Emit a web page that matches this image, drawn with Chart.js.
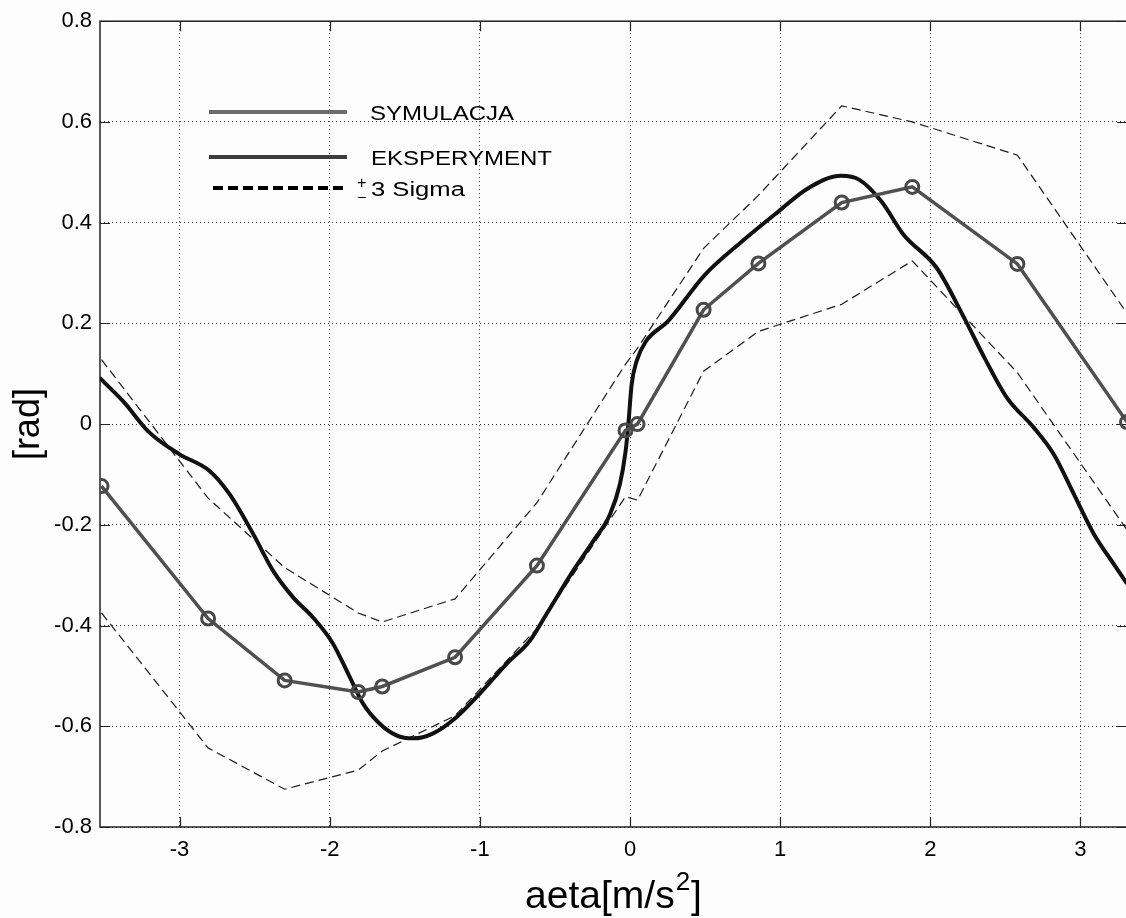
<!DOCTYPE html>
<html>
<head>
<meta charset="utf-8">
<script src="https://cdn.jsdelivr.net/npm/chart.js@4"></script>
<style>
html, body { margin: 0; padding: 0; background: #fdfdfd; overflow: hidden; }
#wrap { width: 1140px; height: 918px; position: relative; }
</style>
</head>
<body>
<div id="wrap"><canvas id="myChart"></canvas></div>
<script>
// simulation points (with markers) and the +/- 3 sigma band at the same x
const simX = [-3.52, -2.81, -2.30, -1.81, -1.65, -1.165, -0.62, -0.03, 0.05, 0.49, 0.855, 1.41, 1.88, 2.58, 3.31];
const simY = [-0.123, -0.386, -0.509, -0.532, -0.521, -0.463, -0.281, -0.0125, 0.0, 0.227, 0.319, 0.44, 0.471, 0.318, 0.004];
const sigmaUpper = [0.128, -0.147, -0.285, -0.375, -0.393, -0.347, -0.156, 0.119, 0.151, 0.349, 0.454, 0.632, 0.60, 0.534, 0.22];
const sigmaLower = [-0.375, -0.643, -0.725, -0.687, -0.649, -0.579, -0.406, -0.144, -0.151, 0.105, 0.184, 0.238, 0.324, 0.102, -0.21];

// experiment curve
const expX = [-3.533, -3.378, -3.2, -3.0, -2.8, -2.667, -2.51, -2.378, -2.244, -2.111, -1.978, -1.867, -1.778, -1.667,
  -1.556, -1.444, -1.311, -1.156, -1.0, -0.822, -0.667, -0.556, -0.378, -0.244, -0.133, -0.067, -0.029, -0.011,
  0.011, 0.044, 0.105, 0.252, 0.497, 0.743, 0.988, 1.184, 1.405, 1.528, 1.675, 1.822, 2.043, 2.215, 2.362, 2.511,
  2.689, 2.822, 2.956, 3.089, 3.222, 3.31];
const expY = [0.092, 0.046, -0.017, -0.06, -0.093, -0.139, -0.218, -0.291, -0.344, -0.384, -0.436, -0.502, -0.555, -0.595,
  -0.618, -0.624, -0.614, -0.582, -0.535, -0.476, -0.43, -0.377, -0.291, -0.232, -0.179, -0.119, -0.053, 0.0,
  0.079, 0.125, 0.164, 0.204, 0.296, 0.362, 0.422, 0.468, 0.493, 0.485, 0.442, 0.376, 0.31, 0.217, 0.131, 0.052,
  -0.007, -0.06, -0.139, -0.218, -0.278, -0.317];

const xMin = -3.53, xMax = 3.31;
const yMin = -0.8, yMax = 0.8;

const pts = (xs, ys) => xs.map((x, i) => ({ x: x, y: ys[i] }));
const FAMILY = '"Liberation Sans", Arial, sans-serif';
const tickFont = { family: FAMILY, size: 22 };

// box around the plot and inward tick marks, like matlab
const boxPlugin = {
  id: 'box',
  beforeDatasetsDraw(chart) {
    const { ctx, chartArea: a, scales } = chart;
    ctx.save();
    ctx.strokeStyle = '#222';
    ctx.lineWidth = 1.5;
    ctx.setLineDash([]);
    ctx.strokeRect(a.left, a.top, a.right - a.left, a.bottom - a.top);
    ctx.lineWidth = 1.2;
    ctx.beginPath();
    scales.x.ticks.forEach(t => {
      const px = Math.round(scales.x.getPixelForValue(t.value)) + 0.5;
      ctx.moveTo(px, a.bottom); ctx.lineTo(px, a.bottom - 10);
      ctx.moveTo(px, a.top); ctx.lineTo(px, a.top + 10);
    });
    scales.y.ticks.forEach(t => {
      const py = Math.round(scales.y.getPixelForValue(t.value)) + 0.5;
      ctx.moveTo(a.left, py); ctx.lineTo(a.left + 10, py);
      ctx.moveTo(a.right, py); ctx.lineTo(a.right - 10, py);
    });
    ctx.stroke();
    ctx.restore();
  }
};

function stretchText(ctx, s, x, y, size, sx) {
  ctx.save();
  ctx.font = size + 'px ' + FAMILY;
  ctx.fillStyle = '#000';
  ctx.textBaseline = 'alphabetic';
  ctx.textAlign = 'left';
  ctx.translate(x, y);
  ctx.scale(sx, 1);
  ctx.fillText(s, 0, 0);
  ctx.restore();
}

// the legend sits inside the axes with no frame
const legendPlugin = {
  id: 'innerLegend',
  afterDraw(chart) {
    const ctx = chart.ctx;
    const line = (x1, x2, y, color, dash) => {
      ctx.save();
      ctx.strokeStyle = color;
      ctx.lineWidth = 4;
      ctx.setLineDash(dash);
      ctx.beginPath();
      ctx.moveTo(x1, y); ctx.lineTo(x2, y);
      ctx.stroke();
      ctx.restore();
    };
    line(209, 347, 112, '#6b6b6b', []);
    stretchText(ctx, 'SYMULACJA', 370, 119.5, 20, 1.2);
    line(209, 347, 157, '#3d3d3d', []);
    stretchText(ctx, 'EKSPERYMENT', 371, 165, 20, 1.2);
    line(213, 343, 188, '#000', [10, 5]);
    stretchText(ctx, '+', 357, 188, 16, 1);
    stretchText(ctx, '–', 358, 201, 14, 1);
    stretchText(ctx, '3 Sigma', 371, 196, 20, 1.28);
  }
};

// x label with a real superscript 2
const xTitlePlugin = {
  id: 'xTitle',
  afterDraw(chart) {
    const ctx = chart.ctx;
    const a = chart.chartArea;
    ctx.save();
    ctx.fillStyle = '#000';
    ctx.textBaseline = 'alphabetic';
    ctx.textAlign = 'left';
    const main = '39px ' + FAMILY, sup = '26px ' + FAMILY;
    ctx.font = main;
    const w1 = ctx.measureText('aeta[m/s').width;
    const w3 = ctx.measureText(']').width;
    ctx.font = sup;
    const w2 = ctx.measureText('2').width;
    let x = (a.left + a.right) / 2 - (w1 + w2 + w3 + 2) / 2;
    ctx.font = main;
    ctx.fillText('aeta[m/s', x, 908);
    x += w1 + 1;
    ctx.font = sup;
    ctx.fillText('2', x, 890);
    x += w2 + 1;
    ctx.font = main;
    ctx.fillText(']', x, 908);
    ctx.restore();
  }
};

const ctx = document.getElementById('myChart').getContext('2d');

const myChart = new Chart(ctx, {
  type: 'scatter',
  data: {
    datasets: [{
      label: 'SYMULACJA',
      data: pts(simX, simY),
      showLine: true,
      borderColor: '#505050',
      borderWidth: 3.5,
      pointRadius: 6.5,
      pointBorderWidth: 3,
      pointBorderColor: '#484848',
      pointBackgroundColor: 'rgba(0,0,0,0)',
      tension: 0
    }, {
      label: 'EKSPERYMENT',
      data: pts(expX, expY),
      showLine: true,
      borderColor: '#111',
      borderWidth: 4,
      pointRadius: 0,
      cubicInterpolationMode: 'monotone'
    }, {
      label: '+3 Sigma',
      data: pts(simX, sigmaUpper),
      showLine: true,
      borderColor: '#1a1a1a',
      borderWidth: 1.2,
      borderDash: [9, 5],
      pointRadius: 0,
      tension: 0
    }, {
      label: '-3 Sigma',
      data: pts(simX, sigmaLower),
      showLine: true,
      borderColor: '#1a1a1a',
      borderWidth: 1.2,
      borderDash: [9, 5],
      pointRadius: 0,
      tension: 0
    }]
  },
  options: {
    responsive: true,
    maintainAspectRatio: false,
    animation: false,
    devicePixelRatio: 1,
    layout: { padding: { top: 19, right: 13, bottom: 0, left: 0 } },
    plugins: {
      legend: { display: false },
      tooltip: { enabled: false }
    },
    scales: {
      x: {
        type: 'linear',
        min: xMin,
        max: xMax,
        afterFit: s => { s.height = 91; },
        ticks: {
          stepSize: 1,
          includeBounds: false,
          color: '#000',
          font: tickFont,
          padding: 10,
          callback: v => String(v)
        },
        grid: { color: '#333', lineWidth: 1, drawTicks: false },
        border: { display: false, dash: [1, 3] },
        title: { display: false }
      },
      y: {
        min: yMin,
        max: yMax,
        afterFit: s => { s.width = 100; },
        ticks: {
          stepSize: 0.2,
          color: '#000',
          font: tickFont,
          padding: 8,
          callback: v => String(Math.round(v * 10) / 10)
        },
        grid: { color: '#333', lineWidth: 1, drawTicks: false },
        border: { display: false, dash: [1, 3] },
        title: {
          display: true,
          text: '[rad]',
          color: '#000',
          font: { family: FAMILY, size: 36 },
          padding: { top: 7, bottom: 0 }
        }
      }
    }
  },
  plugins: [boxPlugin, legendPlugin, xTitlePlugin]
});
</script>
</body>
</html>
